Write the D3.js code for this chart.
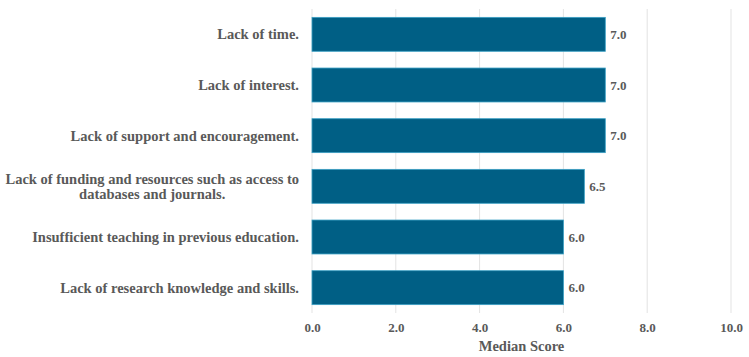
<!DOCTYPE html>
<html>
<head>
<meta charset="utf-8">
<script src="https://cdn.jsdelivr.net/npm/d3@7"></script>
<style>
  body { margin: 0; background: #fff; }
  svg text { font-family: "Liberation Serif", "Times New Roman", serif; font-weight: bold; fill: #595959; }
</style>
</head>
<body>
<div id="my_dataviz"></div>
<script>
// Data
var categories = [
    'Lack of time.',
    'Lack of interest.',
    'Lack of support and encouragement.',
    'Lack of funding and resources such as access to databases and journals.',
    'Insufficient teaching in previous education.',
    'Lack of research knowledge and skills.'
];
var medianScores = [7.0, 7.0, 7.0, 6.5, 6.0, 6.0];
var xTicks = [0, 2, 4, 6, 8, 10];

// label lines (long label wraps in two)
var labelLines = {
    'Lack of funding and resources such as access to databases and journals.':
        ['Lack of funding and resources such as access to', 'databases and journals.']
};

var serif = '"Liberation Serif", "Times New Roman", serif';

var margin = { top: 9, right: 18, bottom: 44, left: 312 },
    width = 749 - margin.left - margin.right,
    height = 357 - margin.top - margin.bottom;

var svg = d3.select('#my_dataviz')
    .append('svg')
    .attr('width', 749)
    .attr('height', 357)
    .append('g')
    .attr('transform', 'translate(' + margin.left + ',' + margin.top + ')');

var x = d3.scaleLinear().domain([0, 10]).range([0, width]);
var y = d3.scaleBand().domain(categories).range([0, height]).paddingInner(0.33).paddingOuter(0.165);

// Gridlines
svg.selectAll('line.grid')
    .data(xTicks)
    .enter()
    .append('line')
    .attr('class', 'grid')
    .attr('x1', function (d) { return x(d); })
    .attr('x2', function (d) { return x(d); })
    .attr('y1', 0)
    .attr('y2', height)
    .attr('stroke', '#e3e3e3')
    .attr('stroke-width', 1);

// X axis labels
var xAxis = svg.append('g')
    .attr('transform', 'translate(0,' + height + ')')
    .call(d3.axisBottom(x).tickValues(xTicks).tickFormat(d3.format('.1f')).tickSize(0).tickPadding(10));
xAxis.attr('font-family', serif);
xAxis.select('.domain').remove();
xAxis.selectAll('text').style('font-size', '13px').style('font-family', serif).attr('fill', '#595959');

// Axis title
svg.append('text')
    .attr('x', x(5))
    .attr('y', height + 38)
    .attr('text-anchor', 'middle')
    .style('font-family', serif)
    .style('font-size', '14.5px')
    .text('Median Score');

// Bars
svg.selectAll('rect')
    .data(categories)
    .enter()
    .append('rect')
    .attr('x', x(0))
    .attr('y', function (d) { return y(d); })
    .attr('width', function (d, i) { return x(medianScores[i]) - x(0); })
    .attr('height', y.bandwidth())
    .attr('fill', '#005f85')
    .attr('stroke', '#3aa0c4')
    .attr('stroke-width', 0.8);

// Value labels
svg.selectAll('text.value')
    .data(categories)
    .enter()
    .append('text')
    .attr('class', 'value')
    .attr('x', function (d, i) { return x(medianScores[i]) + 5; })
    .attr('y', function (d) { return y(d) + y.bandwidth() / 2; })
    .attr('dy', '0.35em')
    .style('font-family', serif)
    .style('font-size', '13px')
    .text(function (d, i) { return medianScores[i].toFixed(1); });

// Category labels
svg.selectAll('text.cat')
    .data(categories)
    .enter()
    .append('text')
    .attr('class', 'cat')
    .style('font-family', serif)
    .style('font-size', '14.5px')
    .each(function (d) {
        var lines = labelLines[d] || [d];
        var t = d3.select(this);
        var cy = y(d) + y.bandwidth() / 2;
        var start = cy - (lines.length - 1) * 7.75;
        lines.forEach(function (l, k) {
            t.append('tspan')
                .attr('x', -13)
                .attr('text-anchor', 'end')
                .attr('y', start + k * 15.5)
                .attr('dy', '0.35em')
                .text(l);
        });
    });

// center the second line of the wrapped label under the first
svg.selectAll('text.cat').each(function () {
    var spans = d3.select(this).selectAll('tspan').nodes();
    if (spans.length > 1) {
        var w0 = spans[0].getComputedTextLength();
        var mid = -13 - w0 / 2;
        spans.slice(1).forEach(function (s) {
            d3.select(s).attr('text-anchor', 'middle').attr('x', mid);
        });
    }
});
</script>
</body>
</html>
